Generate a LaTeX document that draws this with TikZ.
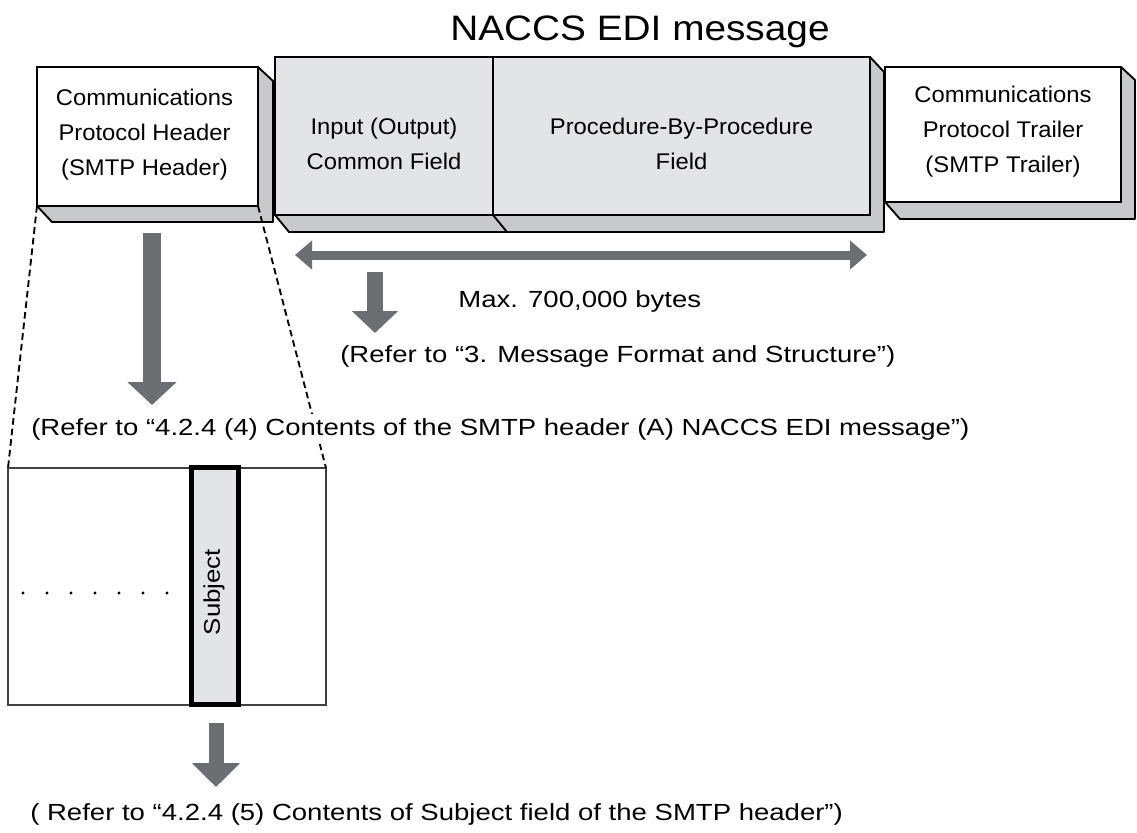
\documentclass[tikz,border=0pt]{standalone}
\usepackage{fontspec}
\setmainfont{Liberation Sans}
\usetikzlibrary{arrows.meta,positioning}
\definecolor{facegray}{HTML}{C8C9CB}
\definecolor{frontgray}{HTML}{E3E4E6}
\definecolor{arrowgray}{HTML}{6D6E71}
\tikzstyle{front}=[draw,line width=1.4pt,inner sep=0pt,outer sep=0pt]
\tikzstyle{face}=[draw,line width=1.4pt,fill=facegray,line join=round]
\tikzstyle{boxtxt}=[align=center,inner sep=0pt,xscale=1.05,transform shape,font=\fontsize{17}{26.25}\selectfont]
\tikzstyle{txt}=[inner sep=0pt,xscale=1.18,transform shape,font=\fontsize{17.5}{21}\selectfont]
\tikzstyle{guide}=[draw,line width=1.4pt,dash pattern=on 5pt off 3pt]

\begin{document}
\begin{tikzpicture}[x=0.75pt,y=-0.75pt]
      \tikzset{fat/.style = {draw=arrowgray,line width=#1}}
      \useasboundingbox (0,0) rectangle (1137,832);
      \node[txt,anchor=base,xscale=0.93,font=\fontsize{26.5}{30}\selectfont] (title) at (640,40) {NACCS EDI message};
      % header box
      \draw[face] (258,67) -- (273,81) -- (273,222) -- (52,222) -- (37,206) -- (258,206) -- cycle;
      \node[front,fill=white,minimum width=165.75pt,minimum height=104.25pt] (hdr) at (147.5,136.5) {};
      \node[boxtxt] (hdr-t) at (144.5,135) {Communications\\Protocol Header\\(SMTP Header)};
      % message box
      \draw[face] (870,57) -- (884,72) -- (884,232) -- (289,232) -- (275,215) -- (870,215) -- cycle;
      \draw[face] (493,215) -- (507,232);
      \node[front,fill=frontgray,minimum width=163.5pt,minimum height=118.5pt] (common) at (384,136) {};
      \node[front,fill=frontgray,minimum width=282.75pt,minimum height=118.5pt] (proc) at (681.5,136) {};
      \node[boxtxt] (common-t) at (384,143.5) {Input (Output)\\Common Field};
      \node[boxtxt] (proc-t) at (681.5,143.5) {Procedure-By-Procedure\\Field};
      % trailer box
      \draw[face] (1121,67) -- (1135,80) -- (1135,219) -- (900,219) -- (885,202) -- (1121,202) -- cycle;
      \node[front,fill=white,minimum width=177pt,minimum height=101.25pt] (trl) at (1003,134.5) {};
      \node[boxtxt] (trl-t) at (1003,131.5) {Communications\\Protocol Trailer\\(SMTP Trailer)};
      % size
      \coordinate (bl) at (295,255);
      \coordinate (br) at (867,255);
      \draw[fat=6.75pt,{Triangle[length=12.75pt,width=21pt]}-{Triangle[length=12.75pt,width=21pt]}] (bl) -- (br);
      \node[txt,anchor=base west] (max) at (458,307) {Max. 700,000 bytes};
      \node[txt,anchor=base west] (ref3) at (340,362) {(Refer to “3. Message Format and Structure”)};
      \coordinate (a2) at (375,272);
      \draw[fat=12pt,-{Triangle[length=16.5pt,width=33.75pt]}] (a2) -- (a2 |- 0,333);
      % zoom on header
      \node[draw=black!75,line width=1.1pt,minimum width=238.5pt,minimum height=177.75pt,inner sep=0pt,outer sep=0pt] (low) at (167,586.5) {};
      \draw[guide] (hdr.south west) -- (low.north west);
      \draw[guide] (hdr.south east) -- (low.north east);
      \node[txt,anchor=base west,fill=white,inner ysep=3pt] (ref4) at (31,435)
        {(Refer to “4.2.4 (4) Contents of the SMTP header (A) NACCS EDI message”)};
      \coordinate (a1) at (152,233);
      \draw[fat=13.5pt,-{Triangle[length=17.25pt,width=36pt]}] (a1) -- (a1 |- 0,405);
      \node[draw,line width=3.75pt,fill=frontgray,minimum width=35.25pt,minimum height=178pt,inner sep=0pt,outer sep=0pt] (subj) at (215,586.3) {};
      \node[rotate=90,inner sep=0pt,font=\fontsize{17}{20}\selectfont] (subj-t) at (214,592) {\scalebox{1.14}[1]{Subject}};
      \foreach \x in {23,47,...,167}
        \fill (\x,593) circle (1.2pt);
      \coordinate (a3) at (216,723);
      \draw[fat=11.25pt,-{Triangle[length=18pt,width=35.25pt]}] (a3) -- (a3 |- 0,787);
      \node[txt,anchor=base west] (ref5) at (30,820)
        {( Refer to “4.2.4 (5) Contents of Subject field of the SMTP header”)};
    \end{tikzpicture}
\end{document}
